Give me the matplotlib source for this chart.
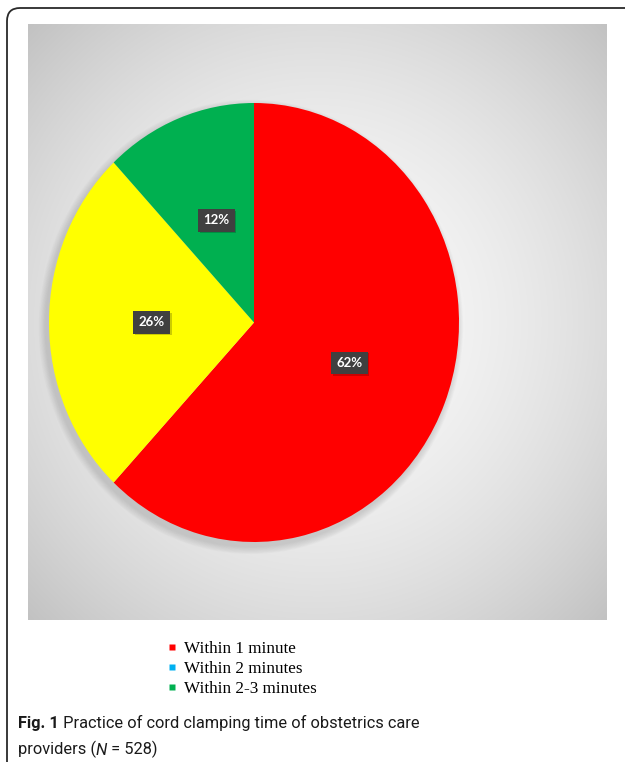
import matplotlib
matplotlib.use('Agg')
import matplotlib.pyplot as plt
import matplotlib.patheffects as pe
import numpy as np
from matplotlib.patches import FancyBboxPatch, Ellipse
from matplotlib.lines import Line2D

# Data
categories = ['Within 1 minute', 'Within 2 minutes', 'Within 2-3 minutes']
shares = [62, 26, 12]
pie_colors = ['#FF0000', '#FFFF00', '#00B050']
legend_colors = ['#FF0000', '#00B0F0', '#00B050']

W, H = 625, 762
fig = plt.figure(figsize=(W / 100, H / 100), dpi=100)
fig.patch.set_facecolor('white')

def px_axes(x0, y0, x1, y1):
    # pixel box (top-left origin) -> figure axes
    return fig.add_axes([x0 / W, 1 - y1 / H, (x1 - x0) / W, (y1 - y0) / H])

# --- grey radial background panel ---
bg = px_axes(27.5, 24.5, 606, 620)
gx, gy = np.meshgrid(np.linspace(-1, 1, 400), np.linspace(-1, 1, 400))
r = np.sqrt(gx**2 + gy**2)
val = (250 - 30 * r**1.8) / 255.0
bg.imshow(np.dstack([val, val, val]), extent=(0, 1, 0, 1), aspect='auto',
          interpolation='bilinear')
bg.set_axis_off()

# --- pie ---
ax = px_axes(49, 103, 459, 542)

# soft shadow behind the pie
for k in range(10):
    grow = 0.07 * (1 - k / 10)
    ax.add_patch(Ellipse((-0.015, -0.02), 2 + grow, 2 + grow, facecolor='#808080',
                         edgecolor='none', alpha=0.03, zorder=0, clip_on=False))

wedges, texts, autotexts = ax.pie(shares, colors=pie_colors, startangle=90,
                                  counterclock=False, autopct='%1.0f%%',
                                  pctdistance=0.5,
                                  wedgeprops=dict(linewidth=0))
for w in wedges:
    w.set_zorder(2)
ax.set_aspect('auto')
ax.set_xlim(-1, 1)
ax.set_ylim(-1, 1)
ax.set_axis_off()

for t in autotexts:
    t.set_color('white')
    t.set_fontweight('bold')
    t.set_fontsize(9.5)
    t.set_family(['Lato', 'DejaVu Sans'])
    t.set_zorder(5)
    t.set_bbox(dict(boxstyle='square,pad=0.4', facecolor='#404040', edgecolor='none'))
    t.get_bbox_patch().set_path_effects([
        pe.SimplePatchShadow(offset=(1.2, -1.2), shadow_rgbFace='black', alpha=0.2),
        pe.Normal()])

# --- legend ---
handles = [Line2D([], [], marker='s', linestyle='none', markersize=5,
                  markerfacecolor=c, markeredgecolor='none') for c in legend_colors]
fig.legend(handles, categories, loc='upper left',
           bbox_to_anchor=(168 / W, 1 - 641 / H), frameon=False,
           handlelength=0.5, handletextpad=0.45, labelspacing=0.22,
           borderpad=0, borderaxespad=0,
           prop={'family': ['Liberation Serif'], 'size': 12.3})

# --- caption ---
over = fig.add_axes([0, 0, 1, 1])
over.set_axis_off()
over.set_xlim(0, W)
over.set_ylim(H, 0)
cap_font = ['Roboto', 'DejaVu Sans']
cap_size = 11.8
cap_color = '#1a1a1a'
t1 = over.text(18, 728, 'Fig. 1', fontsize=cap_size, fontweight='bold',
               family=cap_font, va='baseline', ha='left', color=cap_color)
over.annotate(' Practice of cord clamping time of obstetrics care', xy=(1, 0),
              xycoords=t1, va='bottom', ha='left', fontsize=cap_size,
              family=cap_font, color=cap_color)
t2 = over.text(18, 754, 'providers (', fontsize=cap_size, family=cap_font,
               va='baseline', ha='left', color=cap_color)
t3 = over.annotate('N', xy=(1, 0), xycoords=t2, va='bottom', ha='left',
                   fontsize=cap_size, family=cap_font, style='italic',
                   color=cap_color)
over.annotate(' = 528)', xy=(1, 0), xycoords=t3, va='bottom', ha='left',
              fontsize=cap_size, family=cap_font, color=cap_color)

# --- rounded outer border ---
border = FancyBboxPatch((0.07, -0.5), 7.0, 7.54 + 0.5, boxstyle='round,pad=0,rounding_size=0.13',
                        transform=fig.dpi_scale_trans, facecolor='none',
                        edgecolor='#2a2a2a', linewidth=1.3)
fig.add_artist(border)

plt.savefig('out.png', dpi=100)
